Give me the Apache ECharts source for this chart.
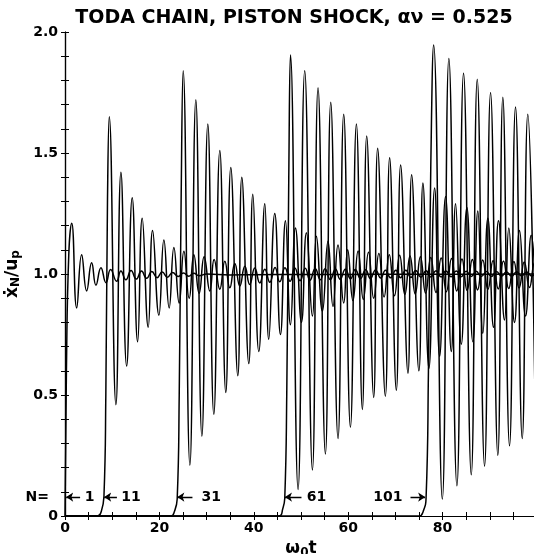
<!DOCTYPE html>
<html><head><meta charset="utf-8">
<script src="https://cdn.jsdelivr.net/npm/echarts@6/dist/echarts.min.js"></script>
<style>html,body{margin:0;padding:0;background:#fff}#c{width:534px;height:554px}</style>
</head><body><div id="c"></div>
<script>
// ---- text ----
const titleText = 'TODA CHAIN, PISTON SHOCK, αν = 0.525';
const xTickLabels = [0, 20, 40, 60, 80];
const yTickLabels = [0, 0.5, 1.0, 1.5, 2.0];

// ---- curves: [omega0 t, xdot_N / u_p] ----
const chainN1 = [[0,0],[0.3,0.6],[0.8,1.08],[1.42,1.21],[2.48,0.86],[3.53,1.08],[4.59,0.93],[5.65,1.046],[6.56,0.954],[7.62,1.026],[8.68,0.964],[9.67,1.019],[10.94,0.97],[11.85,1.012],[12.9,0.976],[14.0,1.014],[15.1,0.979],[16.2,1.012],[17.3,0.982],[18.4,1.01],[19.5,0.985],[20.6,1.008],[21.7,0.987],[22.8,1.006],[24.0,0.99],[25.1,1.004],[26.2,0.991],[27.3,1.003],[28.4,0.993],[30,1.0],[35,0.996],[40,0.997],[50,0.998],[60,0.998],[70,0.999],[80,0.999],[90,0.999],[100,1.0]];

const chainN11 = [[0,0],[6.9,0],[7.7,0.02],[8.25,0.08],[8.65,0.5],[9.0,1.3],[9.38,1.65],[10.79,0.46],[11.85,1.42],[13.06,0.62],[14.24,1.315],[15.39,0.72],[16.36,1.23],[17.63,0.78],[18.56,1.18],[19.89,0.83],[20.95,1.14],[22.07,0.86],[23.07,1.11],[24.19,0.88],[25.19,1.094],[26.31,0.90],[27.30,1.08],[28.42,0.92],[29.48,1.071],[30.69,0.93],[31.60,1.06],[32.80,0.937],[33.86,1.053],[34.92,0.943],[35.98,1.043],[37.04,0.95],[38.10,1.032],[39.15,0.957],[40.21,1.025],[41.27,0.963],[42.33,1.02],[43.4,0.966],[44.5,1.027],[45.5,0.968],[46.6,1.026],[47.7,0.970],[48.7,1.025],[49.8,0.972],[50.9,1.024],[51.9,0.974],[53.0,1.023],[54.1,0.976],[55.1,1.022],[56.2,0.977],[57.3,1.021],[58.3,0.978],[59.4,1.020],[60.5,0.980],[61.5,1.019],[62.6,0.981],[63.7,1.018],[64.7,0.982],[65.8,1.017],[66.9,0.983],[67.9,1.016],[69.0,0.984],[70.1,1.015],[71.1,0.985],[72.2,1.015],[73.3,0.986],[74.3,1.014],[75.4,0.987],[76.5,1.013],[77.5,0.988],[78.6,1.013],[79.7,0.988],[80.7,1.012],[81.8,0.989],[82.9,1.012],[83.9,0.989],[85.0,1.011],[86.1,0.990],[87.1,1.011],[88.2,0.990],[89.3,1.010],[90.3,0.990],[91.4,1.010],[92.5,0.991],[93.5,1.009],[94.6,0.991],[95.7,1.009],[96.7,0.992],[97.8,1.008],[98.9,0.992],[100,1.008]];

const chainN31 = [[0,0],[22.4,0],[23.2,0.02],[23.77,0.07],[24.2,0.5],[24.6,1.3],[25.04,1.84],[26.46,0.21],[27.72,1.72],[29.0,0.33],[30.26,1.62],[31.53,0.42],[32.80,1.51],[34.07,0.51],[35.13,1.44],[36.61,0.58],[37.46,1.40],[38.94,0.63],[39.79,1.33],[41.06,0.68],[42.33,1.29],[43.17,0.73],[44.44,1.25],[45.65,0.75],[46.71,1.22],[47.77,0.79],[48.83,1.19],[50.1,0.80],[51.15,1.17],[52.42,0.826],[53.27,1.156],[54.54,0.846],[55.72,1.135],[56.78,0.866],[57.84,1.12],[59.05,0.88],[59.89,1.10],[61.0,0.89],[62.1,1.095],[63.2,0.895],[64.3,1.09],[65.4,0.90],[66.5,1.085],[67.6,0.905],[68.7,1.08],[69.8,0.91],[70.9,1.077],[72.0,0.915],[73.1,1.074],[74.2,0.918],[75.3,1.071],[76.4,0.921],[77.5,1.068],[78.6,0.924],[79.7,1.066],[80.8,0.927],[81.9,1.064],[83.0,0.93],[84.1,1.062],[85.2,0.932],[86.3,1.06],[87.4,0.934],[88.5,1.058],[89.6,0.936],[90.7,1.056],[91.8,0.938],[92.9,1.054],[94.0,0.94],[95.1,1.052],[96.2,0.942],[97.3,1.05],[98.4,0.944],[99.5,1.048],[100.6,0.946]];

const chainN61 = [[0,0],[45.3,0],[46.14,0.03],[46.56,0.073],[46.98,0.5],[47.41,1.4],[47.77,1.905],[49.38,0.11],[50.79,1.84],[52.42,0.19],[53.61,1.77],[55.17,0.256],[56.30,1.71],[57.84,0.32],[59.05,1.66],[60.47,0.367],[61.74,1.62],[63.0,0.44],[63.92,1.57],[65.40,0.49],[66.24,1.52],[67.87,0.495],[68.78,1.48],[70.20,0.52],[71.11,1.45],[72.66,0.59],[73.44,1.41],[74.98,0.60],[75.83,1.376],[77.10,0.61],[78.31,1.355],[79.37,0.66],[80.63,1.32],[81.84,0.68],[82.75,1.29],[83.96,0.71],[85.14,1.275],[86.41,0.72],[87.47,1.26],[88.53,0.755],[89.59,1.23],[90.79,0.78],[91.85,1.22],[93.12,0.81],[94.03,1.19],[95.24,0.80],[96.30,1.18],[97.57,0.826],[98.77,1.16],[99.9,0.83]];

const chainN101 = [[0,0],[75.0,0],[75.9,0.02],[76.5,0.075],[77.0,0.6],[77.5,1.45],[78.10,1.946],[79.94,0.07],[81.33,1.89],[83.03,0.125],[84.44,1.83],[86.07,0.17],[87.34,1.805],[88.89,0.206],[90.16,1.75],[91.70,0.25],[92.76,1.73],[94.18,0.29],[95.45,1.69],[96.87,0.32],[98.05,1.66],[99.68,0.35]];

// ---- N = annotations ----
const labelTexts = ['N=', '1', '11', '31', '61', '101'];
const labelT = [-5.9, 5.2, 14.0, 31.0, 53.3, 68.4];
const labelLevel = 0.078;
const arrowTailT = [3.2, 11.0, 27.0, 50.1, 73.2];
const arrowTipT = [0.25, 8.3, 23.8, 46.6, 76.3];

const FONT = 'DejaVu Sans';
const INK = '#000';

const curves = [chainN1, chainN11, chainN31, chainN61, chainN101];
const curveSeries = curves.map((d, i) => ({
  type: 'line', data: d, showSymbol: false, smooth: 0.5,
  lineStyle: { color: INK, width: 1.5 }, z: 2 + i, silent: true
}));

const chart = echarts.init(document.getElementById('c'), null, { renderer: 'canvas' });

const isMajorY = v => Math.abs(v * 2 - Math.round(v * 2)) < 1e-6;

chart.setOption({
  animation: false,
  backgroundColor: '#fff',
  grid: { left: 65, top: 32, width: 472, height: 484, outerBoundsMode: 'none', containLabel: false },
  graphic: [{
    type: 'text', x: 294, y: 18,
    style: { text: titleText, align: 'center', verticalAlign: 'middle', textAlign: 'center', textVerticalAlign: 'middle',
      font: 'bold 19px "' + FONT + '"', fill: INK }
  }],
  xAxis: [{
    type: 'value', min: 0, max: 100, interval: 5, position: 'bottom',
    name: '{a|ω}{s|0}{a|t}', nameLocation: 'middle', nameGap: 20,
    nameTextStyle: { rich: {
      a: { fontSize: 17, fontWeight: 'bold', fontFamily: FONT, color: INK },
      s: { fontSize: 12, fontWeight: 'bold', fontFamily: FONT, color: INK, padding: [8, 0, 0, 0] }
    } },
    axisLine: { lineStyle: { color: INK, width: 1.2 } },
    axisTick: { inside: true, length: 4, lineStyle: { color: INK } },
    splitLine: { show: false },
    axisLabel: { margin: 5, color: INK, fontSize: 14, fontWeight: 'bold', fontFamily: FONT,
      showMaxLabel: false,
      formatter: v => (xTickLabels.indexOf(v) >= 0 ? String(v) : '') }
  }, {
    type: 'value', min: 0, max: 100, interval: 5, position: 'top',
    axisLine: { show: true, lineStyle: { color: INK, width: 1.2 } },
    axisTick: { show: true, inside: true, length: 4, lineStyle: { color: INK } },
    axisLabel: { show: false }, splitLine: { show: false }
  }],
  yAxis: [{
    type: 'value', min: 0, max: 2, interval: 0.1,
    name: '{a|ẋ}{s|N}{a|/u}{s|p}', nameLocation: 'middle', nameGap: 36, nameRotate: 90,
    nameTextStyle: { rich: {
      a: { fontSize: 17, fontWeight: 'bold', fontFamily: FONT, color: INK },
      s: { fontSize: 12, fontWeight: 'bold', fontFamily: FONT, color: INK, padding: [8, 0, 0, 0] }
    } },
    axisLine: { show: true, lineStyle: { color: INK, width: 1.2 } },
    axisTick: { show: true, inside: true, length: 4, lineStyle: { color: INK } },
    splitLine: { show: false },
    axisLabel: { margin: 7, color: INK, fontSize: 14, fontWeight: 'bold', fontFamily: FONT,
      formatter: v => {
        const r = Math.round(v * 10) / 10;
        if (!isMajorY(r)) return '';
        const hit = yTickLabels.find(t => Math.abs(t - r) < 1e-6);
        if (hit === undefined) return '';
        return hit === 0 ? '0' : hit.toFixed(1);
      } }
  }, {
    type: 'value', min: 0, max: 2, interval: 0.1, position: 'right',
    axisLine: { show: true, lineStyle: { color: INK, width: 1.2 } },
    axisTick: { show: true, inside: true, length: 4, lineStyle: { color: INK } },
    axisLabel: { show: false }, splitLine: { show: false }
  }],
  series: curveSeries.concat([{
    type: 'lines', coordinateSystem: 'cartesian2d', silent: true, z: 10,
    symbol: ['none', 'arrow'], symbolSize: 7,
    lineStyle: { color: INK, width: 1.4, opacity: 1 },
    data: arrowTailT.map((t, i) => ({ coords: [[t, labelLevel], [arrowTipT[i], labelLevel]] }))
  }, {
    type: 'scatter', symbolSize: 0, clip: false, silent: true, z: 10,
    itemStyle: { opacity: 1 },
    data: labelTexts.map((s, i) => ({ name: s, value: [labelT[i], labelLevel] })),
    label: { show: true, position: 'inside', formatter: p => p.name, color: INK, opacity: 1,
      fontSize: 14, fontWeight: 'bold', fontFamily: FONT }
  }])
});
</script>
</body></html>
